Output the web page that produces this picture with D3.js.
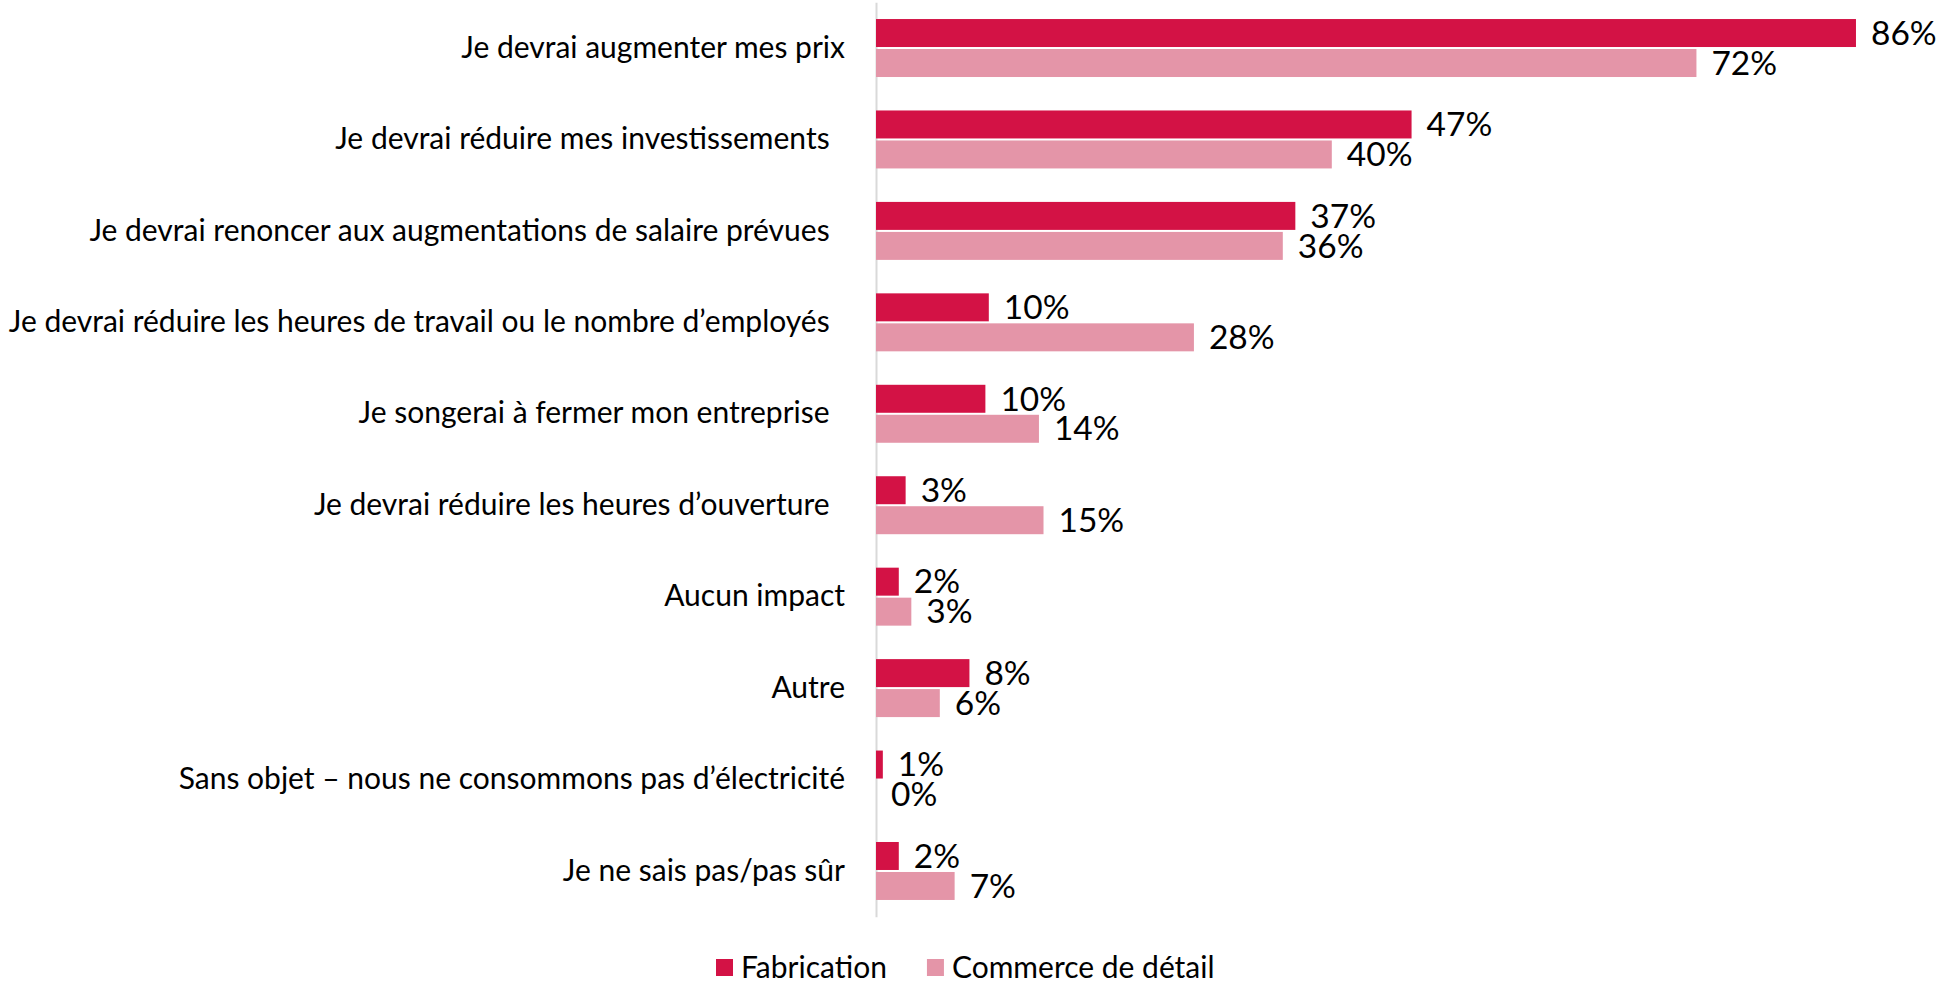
<html>
<script src="https://d3js.org/d3.v7.min.js"></script>
<style>
  body { margin: 0; background: #fff; }
  text { font-family: Lato, "Open Sans", sans-serif; fill: #000; }
</style>
<body onload="init()">
<svg width="1946" height="987"></svg>
<script>
// categories (trailing spaces kept as in the source labels)
const categories = [
  "Je devrai augmenter mes prix",
  "Je devrai réduire mes investissements  ",
  "Je devrai renoncer aux augmentations de salaire prévues  ",
  "Je devrai réduire les heures de travail ou le nombre d’employés  ",
  "Je songerai à fermer mon entreprise  ",
  "Je devrai réduire les heures d’ouverture  ",
  "Aucun impact",
  "Autre",
  "Sans objet – nous ne consommons pas d’électricité",
  "Je ne sais pas/pas sûr"
];
const seriesNames = ["Fabrication", "Commerce de détail"];
const fabrication = [86, 47, 36.8, 9.9, 9.6, 2.6, 2.0, 8.2, 0.6, 2.0];
const commerce = [72, 40, 35.7, 27.9, 14.3, 14.7, 3.1, 5.6, 0, 6.9];
const colors = ["#d31245", "#e495a8"];

function init() {
  const svg = d3.select("svg");

  const rows = categories.map((c, i) => ({cat: c, vals: [fabrication[i], commerce[i]]}));

  const x = d3.scaleLinear().domain([0, 90]).range([876, 876 + 90 * 11.395]);

  const y = d3.scaleBand()
    .domain(categories)
    .range([2.3, 916.7])
    .paddingInner(0.366)
    .paddingOuter(0.183);

  const ySub = d3.scaleBand()
    .domain([0, 1])
    .range([0, y.bandwidth()])
    .paddingInner(0.067);

  // category axis
  const axis = svg.append("g")
    .attr("transform", "translate(876,0)")
    .call(d3.axisLeft(y).tickSize(0).tickPadding(31));
  axis.select(".domain").attr("stroke", "#d9d9d9").attr("stroke-width", 2);
  axis.selectAll("text")
    .attr("font-family", "Lato, 'Open Sans', sans-serif")
    .attr("font-size", 30)
    .attr("fill", "#000")
    .attr("xml:space", "preserve")
    .style("white-space", "pre");

  const groups = svg.append("g").selectAll("g")
    .data(rows)
    .join("g")
    .attr("transform", d => `translate(0,${y(d.cat)})`);

  groups.selectAll("rect")
    .data(d => d.vals.map((v, k) => ({v, k})))
    .join("rect")
    .attr("x", x(0))
    .attr("y", d => ySub(d.k))
    .attr("width", d => x(d.v) - x(0))
    .attr("height", ySub.bandwidth())
    .attr("fill", d => colors[d.k]);

  groups.selectAll("text.val")
    .data(d => d.vals.map((v, k) => ({v, k})))
    .join("text")
    .attr("class", "val")
    .attr("x", d => x(d.v) + 15)
    .attr("y", d => ySub(d.k) + ySub.bandwidth() / 2)
    .attr("dy", "0.35em")
    .attr("font-size", 33.5)
    .text(d => Math.round(d.v) + "%");

  // legend
  const legend = svg.append("g").attr("transform", "translate(716,959)");
  let lx = 0;
  seriesNames.forEach((name, k) => {
    legend.append("rect")
      .attr("x", lx).attr("y", 0)
      .attr("width", 17).attr("height", 17)
      .attr("fill", colors[k]);
    const t = legend.append("text")
      .attr("x", lx + 25).attr("y", 8.5)
      .attr("dy", "0.35em")
      .attr("font-size", 30)
      .text(name);
    lx += 25 + t.node().getComputedTextLength() + 40;
  });
}
</script>
</body>
</html>
